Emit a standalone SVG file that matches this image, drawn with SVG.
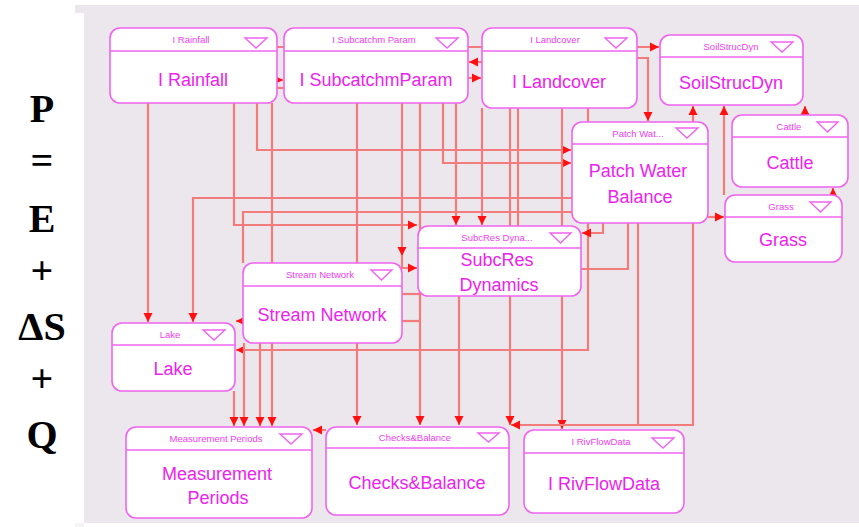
<svg xmlns="http://www.w3.org/2000/svg" width="859" height="527" viewBox="0 0 859 527">
<style>
.bg{fill:#ebe7ed}
.c{fill:none;stroke:#f27c7c;stroke-width:2.2}
.a{marker-end:url(#ah)}
.box{fill:#fff;stroke:#f064f0;stroke-width:1.6}
.hl{stroke:#f064f0;stroke-width:1.4}
.tri{fill:none;stroke:#f064f0;stroke-width:1.4}
.ht{font-family:"Liberation Sans",Arial,sans-serif;font-size:9.5px;fill:#f040f0;text-anchor:middle}
.t{font-family:"Liberation Sans",Arial,sans-serif;font-size:18px;fill:#ee22ee;text-anchor:middle}
.eq{font-family:"Liberation Serif","Times New Roman",serif;font-weight:bold;font-size:40px;fill:#000;text-anchor:middle}
</style>
<defs>
<marker id="ah" markerWidth="10" markerHeight="10" refX="9" refY="5" orient="auto" markerUnits="userSpaceOnUse"><path d="M0,0.5 L9,5 L0,9.5 z" fill="#ff1010"/></marker>
</defs>
<rect width="859" height="527" fill="#fff"/>
<rect class="bg" x="84" y="5" width="775" height="518"/>
<rect class="bg" x="75" y="5" width="9" height="8"/>
<rect class="bg" x="75" y="523" width="9" height="4" opacity="0.5"/>
<g id="formula">
<text class="eq" x="42" y="122" font-size="42">P</text>
<text class="eq" x="42" y="174">=</text>
<text class="eq" x="42" y="232">E</text>
<text class="eq" x="42" y="284">+</text>
<text class="eq" x="42" y="340" font-size="44">ΔS</text>
<text class="eq" x="42" y="392">+</text>
<text class="eq" x="42" y="448">Q</text>
</g>
<g id="connectors">
<path class="c" d="M270,88 H290"/>
<path class="c a" d="M277,47 H659"/>
<path class="c a" d="M276,80 H283"/>
<path class="c a" d="M482,62 H469"/>
<path class="c a" d="M468,78 H481"/>
<path class="c a" d="M148,103 V322"/>
<path class="c a" d="M234,103 V225 H417"/>
<path class="c a" d="M257,103 V150 H571"/>
<path class="c a" d="M272,103 V426"/>
<path class="c a" d="M357,103 V425"/>
<path class="c a" d="M402,103 V256"/>
<path class="c a" d="M402,255 V268 H417"/>
<path class="c a" d="M420,103 V425"/>
<path class="c a" d="M443,103 V163 H571"/>
<path class="c a" d="M456,103 V225"/>
<path class="c a" d="M482,108 V225"/>
<path class="c a" d="M510,108 V425"/>
<path class="c" d="M518,108 V226"/>
<path class="c a" d="M562,108 V429"/>
<path class="c a" d="M588,108 V350 H236"/>
<path class="c a" d="M637,58 H648 V121"/>
<path class="c a" d="M572,198 H193 V322"/>
<path class="c" d="M572,212 H243 V263"/>
<path class="c a" d="M603,223 V233 H582"/>
<path class="c" d="M628,223 V269 H581"/>
<path class="c" d="M638,223 V425"/>
<path class="c a" d="M693,223 V425 H511"/>
<path class="c a" d="M693,122 V106"/>
<path class="c a" d="M708,217 H724"/>
<path class="c a" d="M724,195 V106"/>
<path class="c a" d="M833,196 V188"/>
<path class="c a" d="M805,116 V106"/>
<path class="c a" d="M243,321 H236"/>
<path class="c a" d="M244,343 V426"/>
<path class="c a" d="M260,343 V426"/>
<path class="c" d="M402,294 H420"/>
<path class="c" d="M402,321 H420"/>
<path class="c a" d="M234,391 V426"/>
<path class="c a" d="M459,296 V425"/>
<path class="c a" d="M326,430 H313"/>
</g>
<g id="rainfall">
<rect class="box" x="110" y="28" width="167" height="75" rx="10"/>
<line class="hl" x1="110" y1="51" x2="277" y2="51"/>
<path class="tri" d="M245,38 H267 L256,48 Z"/>
<text class="ht" x="191" y="43">I Rainfall</text>
<text class="t" x="193" y="86">I Rainfall</text>
</g>
<g id="subcatchm">
<rect class="box" x="284" y="28" width="184" height="75" rx="10"/>
<line class="hl" x1="284" y1="51" x2="468" y2="51"/>
<path class="tri" d="M436,38 H458 L447,48 Z"/>
<text class="ht" x="374" y="43">I Subcatchm Param</text>
<text class="t" x="376" y="86">I SubcatchmParam</text>
</g>
<g id="landcover">
<rect class="box" x="482" y="28" width="155" height="80" rx="10"/>
<line class="hl" x1="482" y1="51" x2="637" y2="51"/>
<path class="tri" d="M605,38 H627 L616,48 Z"/>
<text class="ht" x="555" y="43">I Landcover</text>
<text class="t" x="559" y="88">I Landcover</text>
</g>
<g id="soilstrucdyn">
<rect class="box" x="660" y="35" width="143" height="70" rx="10"/>
<line class="hl" x1="660" y1="57" x2="803" y2="57"/>
<path class="tri" d="M771,42 H793 L782,52 Z"/>
<text class="ht" x="731" y="50">SoilStrucDyn</text>
<text class="t" x="731" y="89">SoilStrucDyn</text>
</g>
<g id="patchwater">
<rect class="box" x="572" y="122" width="136" height="101" rx="10"/>
<line class="hl" x1="572" y1="144" x2="708" y2="144"/>
<path class="tri" d="M676,128 H698 L687,138 Z"/>
<text class="ht" x="638" y="137">Patch Wat...</text>
<text class="t" x="638" y="177">Patch Water</text>
<text class="t" x="640" y="203">Balance</text>
</g>
<g id="cattle">
<rect class="box" x="732" y="115" width="116" height="72" rx="10"/>
<line class="hl" x1="732" y1="137" x2="848" y2="137"/>
<path class="tri" d="M817,122 H838 L827.5,132 Z"/>
<text class="ht" x="789" y="130">Cattle</text>
<text class="t" x="790" y="169">Cattle</text>
</g>
<g id="grass">
<rect class="box" x="725" y="195" width="117" height="67" rx="10"/>
<line class="hl" x1="725" y1="217" x2="842" y2="217"/>
<path class="tri" d="M810,202 H831 L820.5,212 Z"/>
<text class="ht" x="781" y="210">Grass</text>
<text class="t" x="783" y="246">Grass</text>
</g>
<g id="subcres">
<rect class="box" x="418" y="226" width="163" height="70" rx="10"/>
<line class="hl" x1="418" y1="248" x2="581" y2="248"/>
<path class="tri" d="M550,233 H571 L560.5,243 Z"/>
<text class="ht" x="497" y="241">SubcRes Dyna...</text>
<text class="t" x="497" y="266">SubcRes</text>
<text class="t" x="499" y="291">Dynamics</text>
</g>
<g id="streamnetwork">
<rect class="box" x="243" y="263" width="159" height="80" rx="10"/>
<line class="hl" x1="243" y1="286" x2="402" y2="286"/>
<path class="tri" d="M371,270 H392 L381.5,280 Z"/>
<text class="ht" x="320" y="278">Stream Network</text>
<text class="t" x="322" y="321">Stream Network</text>
</g>
<g id="lake">
<rect class="box" x="112" y="323" width="123" height="68" rx="10"/>
<line class="hl" x1="112" y1="345" x2="235" y2="345"/>
<path class="tri" d="M203,330 H225 L214,340 Z"/>
<text class="ht" x="170" y="338">Lake</text>
<text class="t" x="173" y="375">Lake</text>
</g>
<g id="measurement">
<rect class="box" x="126" y="427" width="186" height="91" rx="10"/>
<line class="hl" x1="126" y1="450" x2="312" y2="450"/>
<path class="tri" d="M280,434 H302 L291,444 Z"/>
<text class="ht" x="216" y="442">Measurement Periods</text>
<text class="t" x="217" y="480">Measurement</text>
<text class="t" x="218" y="504">Periods</text>
</g>
<g id="checks">
<rect class="box" x="326" y="427" width="183" height="88" rx="10"/>
<line class="hl" x1="326" y1="448" x2="509" y2="448"/>
<path class="tri" d="M478,433 H499 L488.5,442 Z"/>
<text class="ht" x="415" y="441">Checks&amp;Balance</text>
<text class="t" x="417" y="489">Checks&amp;Balance</text>
</g>
<g id="rivflow">
<rect class="box" x="524" y="430" width="160" height="83" rx="10"/>
<line class="hl" x1="524" y1="453" x2="684" y2="453"/>
<path class="tri" d="M652,438 H674 L663,448 Z"/>
<text class="ht" x="601" y="445">I RivFlowData</text>
<text class="t" x="604" y="490">I RivFlowData</text>
</g>
</svg>
